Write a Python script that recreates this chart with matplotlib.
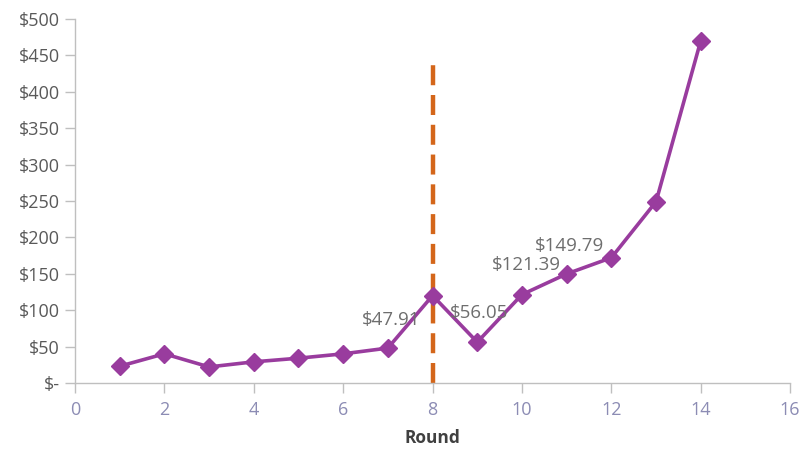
import matplotlib
matplotlib.use('Agg')
import matplotlib.pyplot as plt
from matplotlib.ticker import FuncFormatter

plt.rcParams['font.family'] = ['Open Sans', 'DejaVu Sans']

# データ
rounds = [1, 2, 3, 4, 5, 6, 7, 8, 9, 10, 11, 12, 13, 14]
values = [23, 40, 22, 29, 34, 40, 47.91, 120, 56.05, 121.39, 149.79, 172, 249, 470]

labelled_rounds = [7, 9, 10, 11]
label_texts = ['$47.91', '$56.05', '$121.39', '$149.79']

split_round = 8
split_top = 440

x_ticks = [0, 2, 4, 6, 8, 10, 12, 14, 16]
y_ticks = [0, 50, 100, 150, 200, 250, 300, 350, 400, 450, 500]

fig = plt.figure(figsize=(8.03, 4.5), dpi=100)
ax = fig.add_axes([0.0934, 0.149, 0.8906, 0.809])

# 区切り線（破線）
ax.vlines(split_round, 0, split_top, colors='#D4661A', linewidth=3.2,
          linestyles=(0, (4.5, 2.2)), zorder=2)

ax.plot(rounds, values, color='#993C9E', linewidth=2.6, marker='D',
        markersize=9, markerfacecolor='#993C9E', markeredgecolor='#993C9E', zorder=3)

# データラベル（少し上にずらす）
offsets = {7: (0.07, 39), 9: (0.04, 40), 10: (0.09, 41), 11: (0.07, 38)}
for r, t in zip(labelled_rounds, label_texts):
    v = values[rounds.index(r)]
    dx, dy = offsets[r]
    ax.text(r + dx, v + dy, t, ha='center', va='center', fontsize=13.5,
            color='#6E6E6E', zorder=4)

ax.set_xlim(0, 16)
ax.set_ylim(0, 500)
ax.set_xticks(x_ticks)
ax.set_yticks(y_ticks)
ax.yaxis.set_major_formatter(FuncFormatter(lambda v, p: '$-' if v == 0 else f'${v:.0f}'))

for s in ['top', 'right']:
    ax.spines[s].set_visible(False)
for s in ['left', 'bottom']:
    ax.spines[s].set_color('#BFBFBF')
    ax.spines[s].set_linewidth(1)

ax.tick_params(axis='both', direction='out', length=7, color='#BFBFBF', width=1)
ax.tick_params(axis='x', labelsize=13, labelcolor='#8C8CB4', pad=6)
ax.tick_params(axis='y', labelsize=13, labelcolor='#595959', pad=4)

ax.set_xlabel('Round', fontsize=12.5, fontweight='bold', color='#404040', labelpad=7)

fig.savefig('out.png', dpi=100, facecolor='white')
